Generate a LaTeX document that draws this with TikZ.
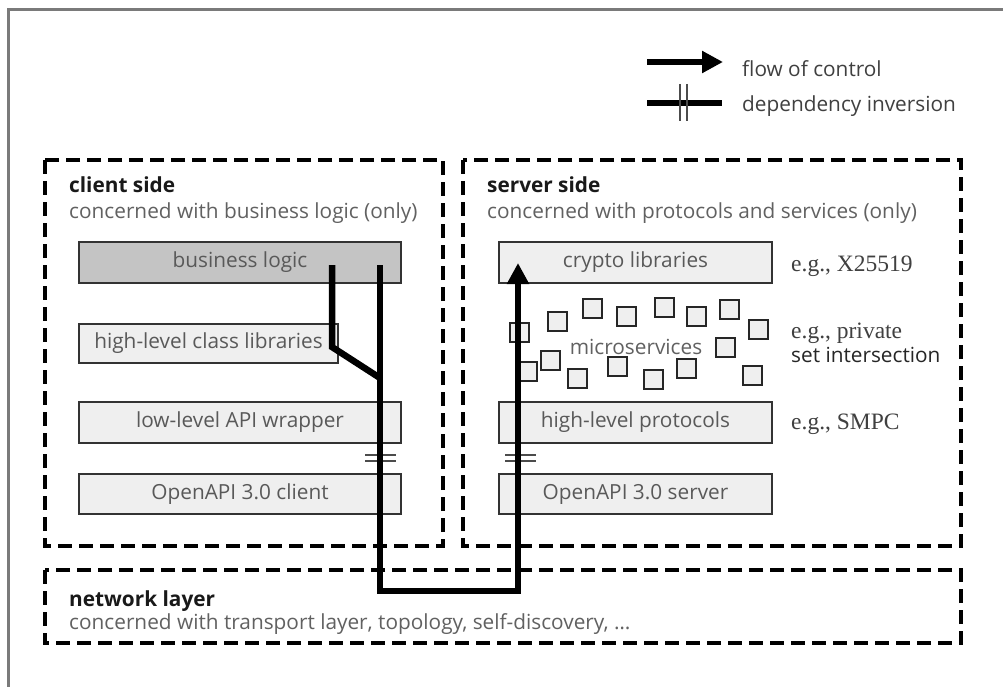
\documentclass[tikz,border=0pt]{standalone}
\usepackage{fontspec}
\setmainfont{Open Sans}
\newfontfamily\annfont{Liberation Serif}
\usetikzlibrary{arrows.meta}
\newcommand\lblsize{\fontsize{20.8}{24}\selectfont}
\newcommand\annsize{\fontsize{23.5}{26}\selectfont}
\definecolor{framegray}{HTML}{7A7A7A}
\definecolor{boxfill}{HTML}{EFEFEF}
\definecolor{bizfill}{HTML}{C4C4C4}
\tikzset{
  zone/.style={line width=4.5pt, dash pattern=on 14pt off 7pt, black},
  layer/.style={draw=black!80, line width=2pt, fill=boxfill, text=black!65,
    inner sep=0pt, minimum height=41pt, text height=14pt, text depth=4pt, font=\lblsize},
  flowline/.style={line width=6.5pt, black, line join=miter},
  flowtip/.style={-{Triangle[length=21pt,width=21pt]}},
  msq/.style={draw=black!85, fill=boxfill, line width=2pt, minimum size=19pt, inner sep=0pt},
  inv/.style={line width=1.5pt, black!70},
  title/.style={font=\lblsize\bfseries, text=black!90, anchor=base west, inner sep=0pt},
  sub/.style={font=\lblsize, text=black!62, anchor=base west, inner sep=0pt},
  ann/.style={font=\annfont\annsize, text=black!75, anchor=base west, inner sep=0pt},
}
\begin{document}
\begin{tikzpicture}[x=1pt,y=-1pt]
\useasboundingbox (0,0) rectangle (1003,687);
\fill[white] (0,0) rectangle (1003,687);

% outer frame
\draw[line width=3pt, framegray] (1003,10) -- (8,10) -- (8,687);

% legend
\coordinate (lg1) at (647,62);
\coordinate (lg2) at (723,62);
\draw[flowline, flowtip] (lg1) -- (lg2);
\node[sub, text=black!75] (lgt1) at (742,77) {flow of control};
\coordinate (lg3) at (647,103);
\coordinate (lg4) at (722,103);
\draw[flowline] (lg3) -- (lg4);
\draw[inv] (680,84) -- (680,121);
\draw[inv] (687,84) -- (687,121);
\node[sub, text=black!75] (lgt2) at (742,112) {dependency inversion};

% zones
\draw[zone] (45,160) rectangle (443,546);
\draw[zone] (463,160) rectangle (961,546);
\draw[zone] (45,570) rectangle (961,643);

\node[title] (ct) at (69,193) {client side};
\node[sub] (cs) at (69,218) {concerned with business logic (only)};
\node[title] (st) at (487,193) {server side};
\node[sub] (ss) at (487,218) {concerned with protocols and services (only)};
\node[title] (nt) at (69,606) {network layer};
\node[sub] (ns) at (69,629) {concerned with transport layer, topology, self-discovery, \ldots};

% client layers
\node[layer, fill=bizfill, minimum width=322pt] (biz) at (240,262) {business logic};
\node[layer, minimum width=259pt, minimum height=39pt] (hcl) at (208.5,343.5) {high-level class libraries};
\node[layer, minimum width=322pt] (llw) at (240,422.5) {low-level API wrapper};
\node[layer, minimum width=322pt, minimum height=40pt] (oac) at (240,494) {OpenAPI 3.0 client};

% server layers
\node[layer, minimum width=273pt] (cry) at (635.5,262) {crypto libraries};
\node[layer, minimum width=273pt] (hlp) at (635.5,422.5) {high-level protocols};
\node[layer, minimum width=273pt, minimum height=40pt] (oas) at (635.5,494) {OpenAPI 3.0 server};

% microservices
\node[msq] (m1) at (519,332) {};
\node[msq] (m2) at (557,321) {};
\node[msq] (m3) at (592,308) {};
\node[msq] (m4) at (626,316) {};
\node[msq] (m5) at (664,307) {};
\node[msq] (m6) at (696,316) {};
\node[msq] (m7) at (729,309) {};
\node[msq] (m8) at (758,329) {};
\node[msq] (m9) at (725,347) {};
\node[msq] (m10) at (550,360) {};
\node[msq] (m11) at (527,371) {};
\node[msq] (m12) at (577,378) {};
\node[msq] (m13) at (617,366) {};
\node[msq] (m14) at (653,379) {};
\node[msq] (m15) at (686,368) {};
\node[msq] (m16) at (752,375) {};
\node[font=\lblsize, text=black!62, inner sep=0pt] (ms) at (636,347) {microservices};

% annotations
\node[ann] (a1) at (791,271) {e.g., X25519};
\node[ann] (a2) at (791,338) {e.g., private};
\node[sub, text=black!85] (a3) at (791,362) {set intersection};
\node[ann] (a4) at (791,429) {e.g., SMPC};

% dependency inversion marks
\draw[inv] (365,455) -- (396,455);
\draw[inv] (365,461) -- (396,461);
\draw[inv] (505,455) -- (536,455);
\draw[inv] (505,461) -- (536,461);

% flow of control
\coordinate (p1) at (332,265);
\coordinate (p2) at (332,347);
\coordinate (p3) at (380,378);
\coordinate (q1) at (380,265);
\coordinate (q2) at (380,591);
\coordinate (q3) at (518,591);
\coordinate (q4) at (518,263);
\draw[flowline] (p1) -- (p2) -- (p3);
\draw[flowline, flowtip] (q1) -- (q2) -- (q3) -- (q4);
\end{tikzpicture}
\end{document}
